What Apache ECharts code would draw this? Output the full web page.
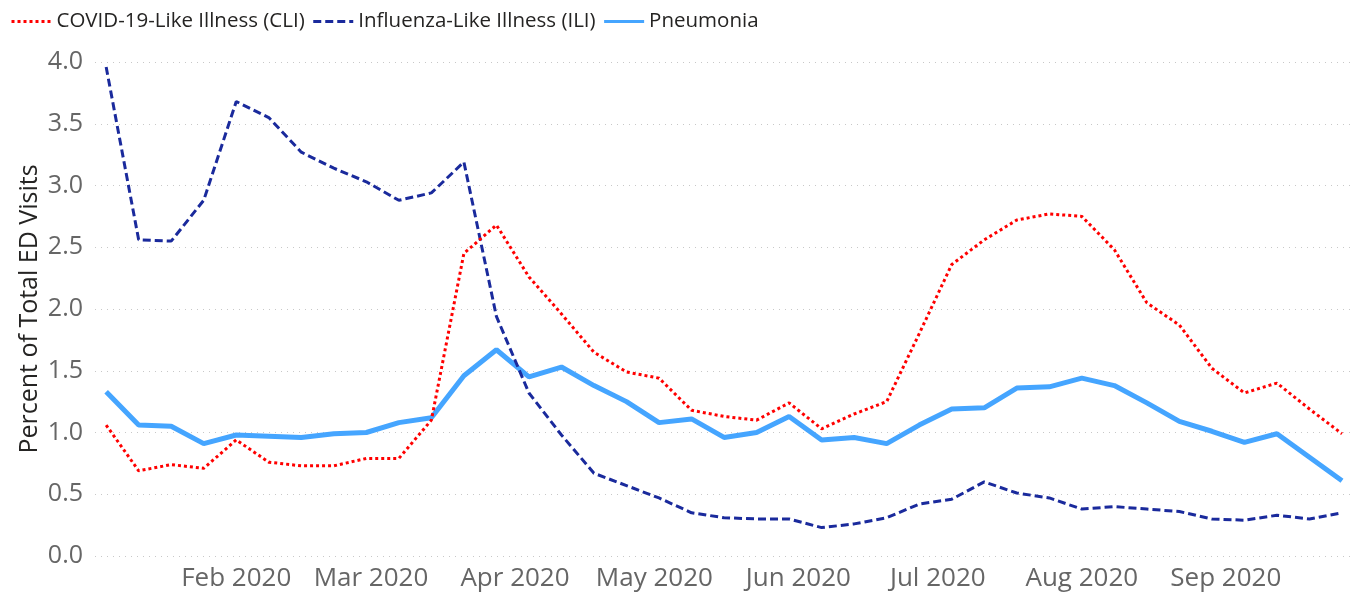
<!DOCTYPE html>
<html>
<head>
<meta charset="utf-8">
<script src="https://cdn.jsdelivr.net/npm/echarts@6/dist/echarts.min.js"></script>
<style>
  html, body { margin: 0; padding: 0; background: #fff; }
  #main { width: 1360px; height: 595px; }
</style>
</head>
<body>
<div id="main"></div>
<script>
// weekly points, week ending Saturday
var firstWeek = Date.UTC(2020, 0, 4);
var weekCount = 39;

var cli = [1.06, 0.69, 0.74, 0.71, 0.94, 0.76, 0.73, 0.73, 0.79, 0.79,
  1.10, 2.45, 2.68, 2.26, 1.96, 1.65, 1.49, 1.44, 1.18, 1.13,
  1.10, 1.24, 1.03, 1.15, 1.25, 1.80, 2.36, 2.56, 2.72, 2.77,
  2.75, 2.48, 2.05, 1.87, 1.52, 1.32, 1.40, 1.19, 0.99];

var ili = [3.96, 2.56, 2.55, 2.88, 3.68, 3.55, 3.27, 3.14, 3.03, 2.88,
  2.94, 3.19, 1.94, 1.32, 0.98, 0.67, 0.57, 0.47, 0.35, 0.31,
  0.30, 0.30, 0.23, 0.26, 0.31, 0.42, 0.46, 0.60, 0.51, 0.47,
  0.38, 0.40, 0.38, 0.36, 0.30, 0.29, 0.33, 0.30, 0.35];

var pneumonia = [1.33, 1.06, 1.05, 0.91, 0.98, 0.97, 0.96, 0.99, 1.00, 1.08,
  1.12, 1.46, 1.67, 1.45, 1.53, 1.38, 1.25, 1.08, 1.11, 0.96,
  1.00, 1.13, 0.94, 0.96, 0.91, 1.06, 1.19, 1.20, 1.36, 1.37,
  1.44, 1.38, 1.24, 1.09, 1.01, 0.92, 0.99, 0.80, 0.61];

var monthNames = ['Jan', 'Feb', 'Mar', 'Apr', 'May', 'Jun', 'Jul', 'Aug', 'Sep', 'Oct', 'Nov', 'Dec'];
var DAY = 86400000;

var weeks = [];
for (var i = 0; i < weekCount; i++) weeks.push(firstWeek + i * 7 * DAY);

function pairs(vals) {
  return vals.map(function (v, i) { return [weeks[i], v]; });
}

var myChart = echarts.init(document.getElementById('main'));
myChart.setOption({
  animation: false,
  useUTC: true,
  textStyle: { fontFamily: 'Open Sans' },
  legend: {
    left: 5, top: 6,
    itemWidth: 40, itemHeight: 14, itemGap: 7,
    itemStyle: { opacity: 0 },
    lineStyle: { width: 3 },
    textStyle: { fontSize: 20.5, color: '#252423', fontFamily: 'Open Sans' },
    data: ['COVID-19-Like Illness (CLI)', 'Influenza-Like Illness (ILI)', 'Pneumonia']
  },
  grid: { left: 95, right: 5, top: 62, bottom: 39, containLabel: false },
  xAxis: {
    type: 'time',
    min: firstWeek - 2.4 * DAY,
    max: weeks[weekCount - 1] + 2.8 * DAY,
    splitNumber: 9,
    minInterval: 28 * DAY,
    maxInterval: 31 * DAY,
    axisLine: { show: false },
    axisTick: { show: false },
    splitLine: { show: false },
    axisLabel: {
      showMinLabel: false, showMaxLabel: false,
      fontSize: 26, color: '#666666', margin: 10,
      formatter: function (val) {
        var d = new Date(val);
        if (d.getUTCDate() !== 1) return '';
        return monthNames[d.getUTCMonth()] + ' ' + d.getUTCFullYear();
      }
    }
  },
  yAxis: {
    type: 'value',
    min: 0, max: 4, interval: 0.5,
    name: 'Percent of Total ED Visits',
    nameLocation: 'middle',
    nameGap: 53,
    nameMoveOverlap: false,
    nameTextStyle: { fontSize: 25, color: '#252423' },
    axisLine: { show: false },
    axisTick: { show: false },
    axisLabel: {
      fontSize: 25, color: '#666666', margin: 12,
      formatter: function (v) { return v.toFixed(1); }
    },
    splitLine: { lineStyle: { color: '#c8c8c8', type: [1, 5], width: 1 } }
  },
  series: [
    {
      name: 'COVID-19-Like Illness (CLI)',
      type: 'line', symbol: 'none', z: 3,
      itemStyle: { color: '#ff0000' },
      lineStyle: { color: '#ff0000', width: 3, type: [3, 3] },
      data: pairs(cli)
    },
    {
      name: 'Influenza-Like Illness (ILI)',
      type: 'line', symbol: 'none', z: 2,
      itemStyle: { color: '#1a2a9c' },
      lineStyle: { color: '#1a2a9c', width: 3, type: [8, 4] },
      data: pairs(ili)
    },
    {
      name: 'Pneumonia',
      type: 'line', symbol: 'none', z: 1,
      itemStyle: { color: '#45a5ff' },
      lineStyle: { color: '#45a5ff', width: 5 },
      data: pairs(pneumonia)
    }
  ]
});
</script>
</body>
</html>
